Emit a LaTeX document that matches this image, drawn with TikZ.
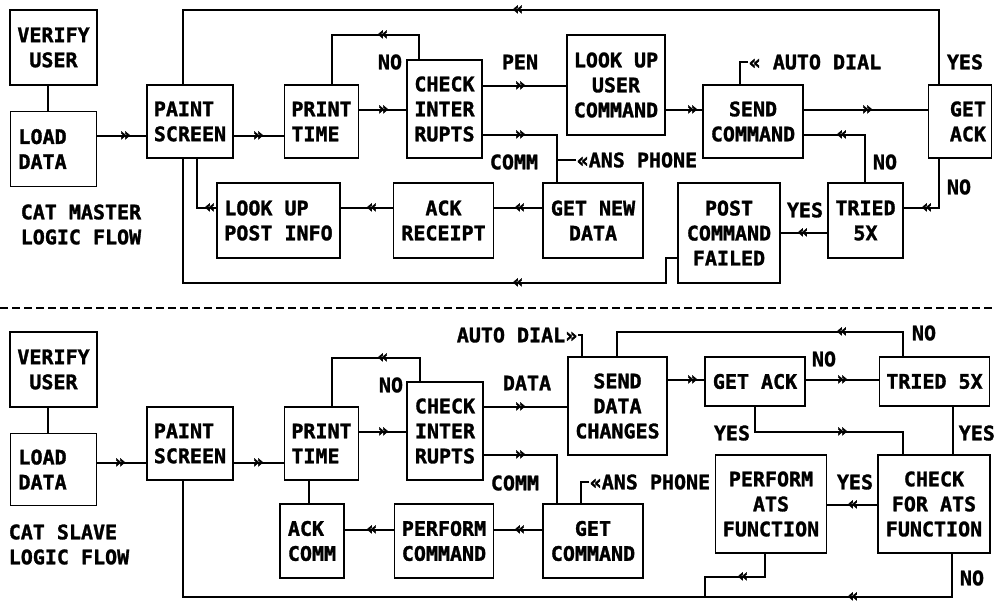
\documentclass[tikz,border=0pt]{standalone}
\usepackage{fontspec}
\usepackage{tikz}
\usetikzlibrary{positioning}
\newfontfamily\plotter{DejaVu Sans Mono}[BoldFeatures={FakeBold=1.5}]
\newcommand{\plotfont}{\plotter\bfseries\fontsize{20}{25}\selectfont}
\newcommand{\markfont}{\plotter\bfseries\fontsize{18}{18}\selectfont}

\begin{document}
\begin{tikzpicture}[x=1pt,y=-1pt,line width=1.5pt,
  box/.style={draw,font=\plotfont,align=center,inner sep=2pt},
  lbl/.style={font=\plotfont,inner sep=0pt},
  fw/.style={font=\markfont,inner sep=0pt,node contents={»}},
  bw/.style={font=\markfont,inner sep=0pt,node contents={«}}]
\useasboundingbox (0,0) rectangle (995,605);

\node[box,minimum width=87,minimum height=75] (verA) at (53.5,47.5) {VERIFY\\USER};
\node[box,minimum width=86,minimum height=75,text width=70,align=left] (loadA) [below=25pt of verA] {LOAD\\DATA};
\node[box,minimum width=86,minimum height=73,align=left] (paintA) at (190,121.5) {PAINT\\SCREEN};
\node[box,minimum width=74,minimum height=73,align=left] (printA) [right=50pt of paintA] {PRINT\\TIME};
\node[box,minimum width=75,minimum height=98] (checkA) at (444.5,109) {CHECK\\INTER\\RUPTS};
\node[box,minimum width=98,minimum height=100] (lookupA) at (616,85) {LOOK UP\\USER\\COMMAND};
\node[box,minimum width=100,minimum height=73] (sendA) at (753,121.5) {SEND\\COMMAND};
\node[box,minimum width=63,minimum height=73,text width=52,align=right] (getackA) [right=124pt of sendA] {GET\\ACK};
\node[box,minimum width=75,minimum height=75] (triedA) at (865.5,220.5) {TRIED\\5X};
\node[box,minimum width=102,minimum height=100] (postA) at (729,233) {POST\\COMMAND\\FAILED};
\node[box,minimum width=100,minimum height=75] (getnewA) at (593,220.5) {GET NEW\\DATA};
\node[box,minimum width=100,minimum height=75] (ackrecA) [left=48pt of getnewA] {ACK\\RECEIPT};
\node[box,minimum width=123,minimum height=75,align=left] (lookpostA) [left=52pt of ackrecA] {LOOK UP\\POST INFO};
\node[lbl,anchor=west,align=left] (titleA) at (20,224.5) {CAT MASTER\\LOGIC FLOW};

\node[lbl] (noA1) at (390,62) {NO};
\node[lbl] (penA) at (520,62) {PEN};
\node[lbl] (commA) at (514,162) {COMM};
\node[lbl,anchor=west] (ansA) at (576,160) {«ANS PHONE};
\node[lbl,anchor=west] (autoA) at (748,62) {« AUTO DIAL};
\node[lbl] (yesA1) at (965,62) {YES};
\node[lbl] (noA2) at (885,162) {NO};
\node[lbl] (noA3) at (959,187) {NO};
\node[lbl] (yesA2) at (805,210) {YES};

\draw (verA.south -| 48,0) -- (loadA.north -| 48,0);
\draw (loadA.east |- 0,136) -- (125,136) node[fw] -- (paintA.west |- 0,136);
\draw (paintA.east |- 0,136) -- (258,136) node[fw] -- (printA.west |- 0,136);
\draw (printA.east |- 0,110) -- (383,110) node[fw] -- (checkA.west |- 0,110);
\draw (checkA.north -| 419,0) |- (383,35) node[bw] -| (printA.north -| 332,0);
\draw (checkA.east |- 0,86) -- (520,86) node[fw] -- (lookupA.west |- 0,86);
\draw (checkA.east |- 0,135) -- (520,135) node[fw] -| (getnewA.north -| 557,0);
\draw (ansA.west) -- (557,160);
\draw (getnewA.west |- 0,208) -- (520,208) node[bw] -- (ackrecA.east |- 0,208);
\draw (ackrecA.west |- 0,208) -- (372,208) node[bw] -- (lookpostA.east |- 0,208);
\draw (lookpostA.west |- 0,208) -- (210,208) node[bw] -| (paintA.south -| 197,0);
\draw (getackA.north -| 939,0) |- (518,10) node[bw] -| (paintA.north -| 183,0);
\draw (postA.west |- 0,258) -| (666,283) -- (518,283) node[bw] -| (paintA.south -| 183,0);
\draw (lookupA.east |- 0,110) -- (692,110) node[fw] -- (sendA.west |- 0,110);
\draw (autoA.west) -| (sendA.north -| 740,0);
\draw (sendA.east |- 0,110) -- (867,110) node[fw] -- (getackA.west |- 0,110);
\draw (getackA.south -| 939,0) |- (927,208) node[bw] -- (triedA.east |- 0,208);
\draw (triedA.north -| 865,0) |- (842,135) node[bw] -- (sendA.east |- 0,135);
\draw (triedA.west |- 0,233) -- (803,233) node[bw] -- (postA.east |- 0,233);

\draw[line width=1.2pt,dash pattern=on 8pt off 4pt] (0,308) -- (995,308);

\node[box,minimum width=87,minimum height=75] (verB) at (53.5,369.5) {VERIFY\\USER};
\node[box,minimum width=86,minimum height=72,text width=70,align=left] (loadB) [below=25pt of verB] {LOAD\\DATA};
\node[box,minimum width=86,minimum height=73,align=left] (paintB) at (190,443.5) {PAINT\\SCREEN};
\node[box,minimum width=74,minimum height=73,align=left] (printB) [right=50pt of paintB] {PRINT\\TIME};
\node[box,minimum width=76,minimum height=98] (checkB) at (445,431) {CHECK\\INTER\\RUPTS};
\node[box,minimum width=99,minimum height=98] (sendB) at (617.5,406) {SEND\\DATA\\CHANGES};
\node[box,minimum width=100,minimum height=49] (getackB) at (755,381.5) {GET ACK};
\node[box,minimum width=110,minimum height=49] (triedB) [right=73pt of getackB] {TRIED 5X};
\node[box,minimum width=112,minimum height=98] (checkatsB) at (934,504) {CHECK\\FOR ATS\\FUNCTION};
\node[box,minimum width=111,minimum height=98] (perfatsB) [left=50pt of checkatsB] {PERFORM\\ATS\\FUNCTION};
\node[box,minimum width=100,minimum height=74] (getcmdB) at (593,541) {GET\\COMMAND};
\node[box,minimum width=99,minimum height=74] (perfcmdB) [left=48pt of getcmdB] {PERFORM\\COMMAND};
\node[box,minimum width=64,minimum height=74,align=left] (ackcommB) [left=49pt of perfcmdB] {ACK\\COMM};
\node[lbl,anchor=west,align=left] (titleB) at (8,544.5) {CAT SLAVE\\LOGIC FLOW};

\node[lbl] (noB1) at (391,385) {NO};
\node[lbl] (dataB) at (527,383) {DATA};
\node[lbl] (commB) at (515,483) {COMM};
\node[lbl,anchor=west] (ansB) at (589,482) {«ANS PHONE};
\node[lbl,anchor=east] (autoB) at (578,335) {AUTO DIAL»};
\node[lbl] (noB2) at (924,333) {NO};
\node[lbl] (noB3) at (824,359) {NO};
\node[lbl] (yesB1) at (732,433) {YES};
\node[lbl,anchor=west] (yesB2) at (958,433) {YES};
\node[lbl] (yesB3) at (855,482) {YES};
\node[lbl] (noB4) at (972,578) {NO};
\coordinate (join) at (705,597);

\draw (verB.south -| 48,0) -- (loadB.north -| 48,0);
\draw (loadB.east |- 0,463) -- (120,463) node[fw] -- (paintB.west |- 0,463);
\draw (paintB.east |- 0,463) -- (258,463) node[fw] -- (printB.west |- 0,463);
\draw (printB.east |- 0,432) -- (383,432) node[fw] -- (checkB.west |- 0,432);
\draw (checkB.north -| 420,0) |- (383,358) node[bw] -| (printB.north -| 332,0);
\draw (checkB.east |- 0,407) -- (520,407) node[fw] -- (sendB.west |- 0,407);
\draw (checkB.east |- 0,455) -- (520,455) node[fw] -| (getcmdB.north -| 557,0);
\draw (ansB.west) -| (getcmdB.north -| 581,0);
\draw (getcmdB.west |- 0,530) -- (520,530) node[bw] -- (perfcmdB.east |- 0,530);
\draw (perfcmdB.west |- 0,530) -- (372,530) node[bw] -- (ackcommB.east |- 0,530);
\draw (printB.south -| 309,0) -- (ackcommB.north -| 309,0);
\draw (autoB.east) -| (sendB.north -| 582,0);
\draw (sendB.east |- 0,380) -- (692,380) node[fw] -- (getackB.west |- 0,380);
\draw (getackB.east |- 0,380) -- (842,380) node[fw] -- (triedB.west |- 0,380);
\draw (triedB.north -| 903,0) |- (842,332) node[bw] -| (sendB.north -| 617,0);
\draw (getackB.south -| 755,0) |- (842,432) node[fw] -| (checkatsB.north -| 903,0);
\draw (triedB.south -| 953,0) -- (checkatsB.north -| 953,0);
\draw (checkatsB.west |- 0,505) -- (853,505) node[bw] -- (perfatsB.east |- 0,505);
\draw (perfatsB.south -| 765,0) |- (743,577) node[bw] -| (join);
\draw (checkatsB.south -| 952,0) |- (853,597) node[bw] -| (paintB.south -| 183,0);
\end{tikzpicture}
\end{document}
